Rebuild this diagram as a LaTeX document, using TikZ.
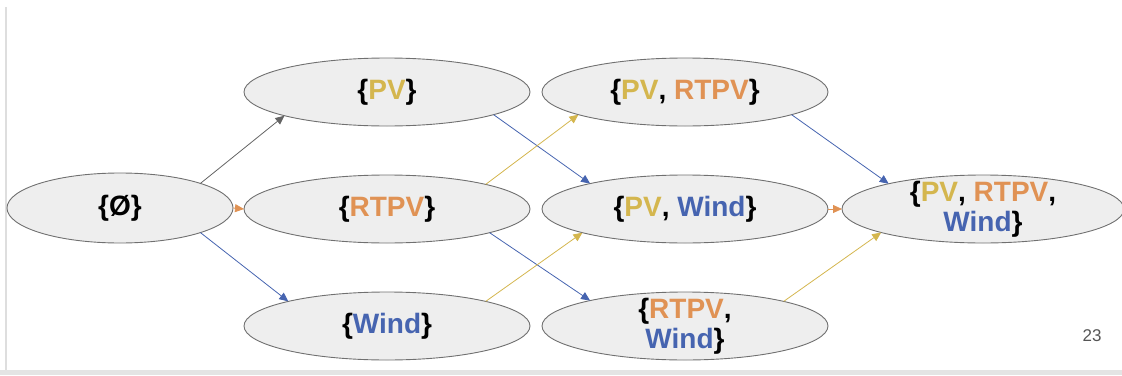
\documentclass[tikz,border=0pt]{standalone}
\usepackage{fontspec}
\setmainfont{Liberation Sans}
\usetikzlibrary{shapes.geometric,arrows.meta}
\definecolor{pvc}{RGB}{212,182,78}
\definecolor{rtc}{RGB}{224,146,84}
\definecolor{wic}{RGB}{70,100,176}
\definecolor{ellfill}{RGB}{238,238,238}
\definecolor{ellline}{RGB}{112,112,112}
\definecolor{arrgray}{RGB}{100,100,100}
\definecolor{framegray}{RGB}{222,222,222}
\definecolor{numgray}{RGB}{85,85,85}
\tikzset{
  setnode/.style={ellipse, draw=ellline, fill=ellfill, line width=0.9pt,
    minimum width=286pt, minimum height=68pt, inner sep=0pt, outer sep=0pt},
  settext/.style={align=center, font=\bfseries\fontsize{28}{30}\selectfont, inner sep=0pt},
  conn/.style={line width=0.8pt, -{Triangle[length=9pt,width=8pt]}, shorten >=0pt}
}
\begin{document}
\begin{tikzpicture}[x=1pt,y=-1pt]
\useasboundingbox (0,0) rectangle (1122,375);
% frame remnants
\fill[framegray] (4.5,7) rectangle (6.5,370);
\fill[framegray!80] (0,369.5) rectangle (1122,375);

\node[setnode, minimum width=226pt, minimum height=70pt] (e) at (120,208) {};
\node[setnode] (pv) at (387,92) {};
\node[setnode] (rt) at (387,209) {};
\node[setnode] (wi) at (387,326) {};
\node[setnode] (pr) at (685,92) {};
\node[setnode] (pw) at (685,209) {};
\node[setnode] (rw) at (685,326) {};
\node[setnode, minimum width=282pt] (f) at (983,209) {};

\node[settext] (et) at (e) {\{Ø\}};
\node[settext] (pvt) at (pv) {\{\textcolor{pvc}{PV}\}};
\node[settext] (rtt) at (rt) {\{\textcolor{rtc}{RTPV}\}};
\node[settext] (wit) at (wi) {\{\textcolor{wic}{Wind}\}};
\node[settext] (prt) at (pr) {\{\textcolor{pvc}{PV}, \textcolor{rtc}{RTPV}\}};
\node[settext] (pwt) at (pw) {\{\textcolor{pvc}{PV}, \textcolor{wic}{Wind}\}};
\node[settext] (rwt) at (rw) {\{\textcolor{rtc}{RTPV},\\ \textcolor{wic}{Wind}\}};
\node[settext] (ft) at (f) {\{\textcolor{pvc}{PV}, \textcolor{rtc}{RTPV},\\ \textcolor{wic}{Wind}\}};

\node[font=\fontsize{17}{20}\selectfont, text=numgray, inner sep=0pt] (num) at (1092,336) {23};

\draw[conn, arrgray] (e.17) -- (pv.193.5);
\draw[conn, rtc] (e.east) -- (rt.west);
\draw[conn, wic] (e.-17) -- (wi.166.5);
\draw[conn, wic] (pv.-12.8) -- (pw.165.4);
\draw[conn, pvc] (rt.14.4) -- (pr.192.9);
\draw[conn, wic] (rt.-13.4) -- (rw.165.4);
\draw[conn, pvc] (wi.14.4) -- (pw.193.5);
\draw[conn, wic] (pr.-12.7) -- (f.165.4);
\draw[conn, rtc] (pw.east) -- (f.west);
\draw[conn, pvc] (rw.14.3) -- (f.193.5);
\end{tikzpicture}
\end{document}
